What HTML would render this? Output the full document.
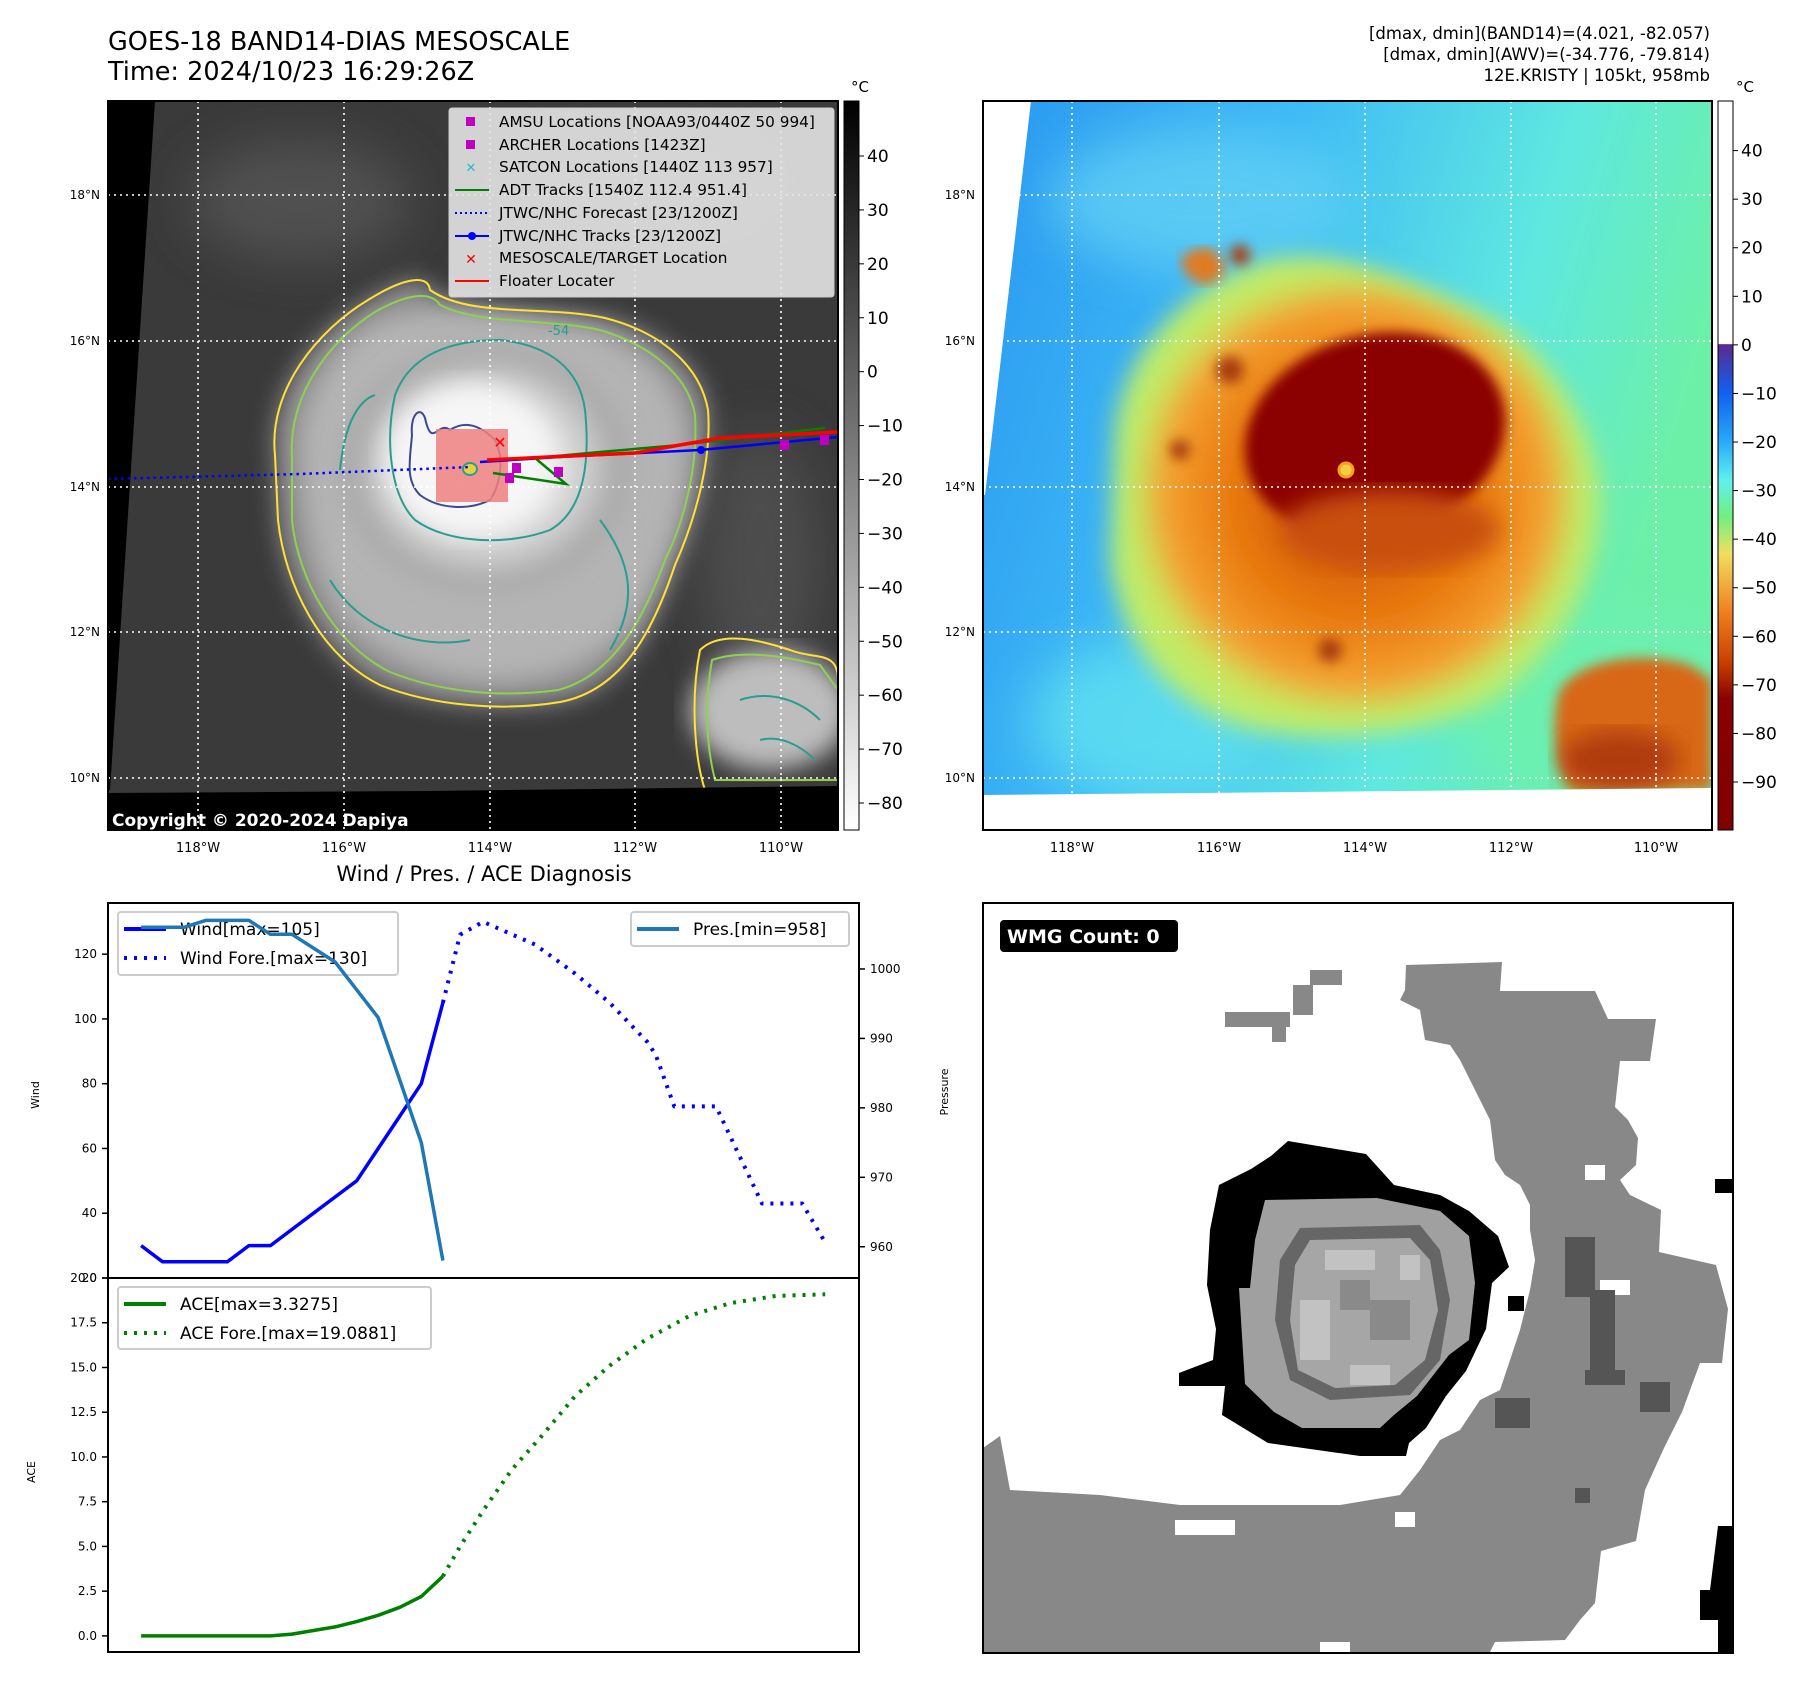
<!DOCTYPE html>
<html><head><meta charset="utf-8">
<style>
html,body{margin:0;padding:0;background:#fff;}
body{width:1801px;height:1690px;overflow:hidden;font-family:"Liberation Sans","DejaVu Sans",sans-serif;}
svg{position:absolute;left:0;top:0;}
text{font-family:"DejaVu Sans","Liberation Sans",sans-serif;}
</style></head>
<body>
<svg id="page" width="1801" height="1690" viewBox="0 0 1801 1690">
<defs>
  <clipPath id="clipL"><rect x="108" y="101" width="730" height="729"/></clipPath>
  <clipPath id="clipR"><rect x="983" y="101" width="729" height="729"/></clipPath>
  <filter id="blur6"><feGaussianBlur stdDeviation="6"/></filter>
  <filter id="blur12"><feGaussianBlur stdDeviation="12"/></filter>
  <filter id="blur25"><feGaussianBlur stdDeviation="25"/></filter>
  <radialGradient id="cloudG" cx="0.5" cy="0.5" r="0.5">
    <stop offset="0" stop-color="#f4f4f4"/><stop offset="0.5" stop-color="#e2e2e2"/><stop offset="0.8" stop-color="#c4c4c4"/><stop offset="1" stop-color="#9a9a9a"/>
  </radialGradient>
  <linearGradient id="bgR" x1="0" y1="0" x2="1" y2="0.3">
    <stop offset="0" stop-color="#2a98f0"/><stop offset="0.4" stop-color="#3fbaf6"/><stop offset="0.75" stop-color="#5ee8e0"/><stop offset="1" stop-color="#6cf0a8"/>
  </linearGradient>
  <radialGradient id="stormG" cx="0.5" cy="0.5" r="0.5">
    <stop offset="0" stop-color="#c24a06"/><stop offset="0.55" stop-color="#e8780e"/><stop offset="0.85" stop-color="#f4a030"/><stop offset="1" stop-color="#c8e860"/>
  </radialGradient>
  <linearGradient id="cbarL" x1="0" y1="0" x2="0" y2="1">
    <stop offset="0" stop-color="#000"/><stop offset="1" stop-color="#fff"/>
  </linearGradient>
  <linearGradient id="cbarR" x1="0" y1="0" x2="0" y2="1">
    <stop offset="0" stop-color="#fff"/><stop offset="0.333" stop-color="#fff"/>
    <stop offset="0.334" stop-color="#5a2a90"/><stop offset="0.40" stop-color="#1060f0"/>
    <stop offset="0.466" stop-color="#28a8f8"/><stop offset="0.52" stop-color="#60f0f0"/>
    <stop offset="0.57" stop-color="#70f080"/><stop offset="0.62" stop-color="#f0e060"/>
    <stop offset="0.70" stop-color="#f08020"/><stop offset="0.77" stop-color="#c84000"/>
    <stop offset="0.82" stop-color="#8b0000"/><stop offset="1" stop-color="#800000"/>
  </linearGradient>
</defs>

<!-- ================= LEFT MAP ================= -->
<text x="108" y="50" font-size="25.5">GOES-18 BAND14-DIAS MESOSCALE</text>
<text x="108" y="80" font-size="25.5">Time: 2024/10/23 16:29:26Z</text>
<g clip-path="url(#clipL)">
  <rect x="108" y="101" width="730" height="729" fill="#3a3a3a"/>
  <g filter="url(#blur25)" opacity="0.7">
    <ellipse cx="300" cy="200" rx="110" ry="60" fill="#5a5a5a"/>
    <ellipse cx="640" cy="180" rx="130" ry="50" fill="#505050"/>
    <ellipse cx="760" cy="560" rx="60" ry="130" fill="#555"/>
  </g>
  <path filter="url(#blur12)" fill="#8e8e8e" d="M275,455 C268,390 318,330 368,300 C400,280 428,272 430,290 C470,318 545,305 605,318 C660,332 700,365 708,410 C712,460 695,520 675,565 C655,625 625,690 560,702 C500,712 430,705 380,685 C320,655 285,585 278,520 Z"/>
  <path filter="url(#blur12)" fill="#b4b4b4" d="M300,460 C296,400 335,345 380,320 C430,300 520,315 590,330 C650,350 685,390 688,440 C690,500 670,560 640,610 C610,660 560,680 500,682 C440,682 380,660 345,620 C315,580 302,520 300,460 Z"/>
  <ellipse cx="485" cy="468" rx="140" ry="120" fill="url(#cloudG)" filter="url(#blur12)"/>
  <ellipse cx="470" cy="460" rx="85" ry="75" fill="#f6f6f6" filter="url(#blur12)"/>
  <g filter="url(#blur12)"><ellipse cx="770" cy="710" rx="80" ry="60" fill="#bdbdbd"/></g>
  <g fill="none" stroke-width="2">
    <path stroke="#ffe135" d="M275,455 C268,390 318,330 368,300 C400,280 428,272 430,290 C470,318 545,305 605,318 C660,332 700,365 708,410 C712,460 695,520 675,565 C655,625 625,690 560,702 C500,712 430,705 380,685 C320,655 285,585 278,520 Z"/>
    <path stroke="#8fd14f" d="M292,458 C288,395 330,340 375,312 C410,292 432,292 440,305 C480,325 545,318 600,330 C650,345 688,375 695,415 C698,465 685,520 665,560 C645,615 615,675 558,690 C500,698 440,692 390,672 C335,645 298,580 292,520 Z"/>
    <path stroke="#2a9d8f" d="M395,395 C410,355 450,340 500,340 C550,345 580,370 585,410 C590,460 585,510 550,530 C510,545 450,545 415,520 C390,495 385,440 395,395 Z"/>
    <path stroke="#2a9d8f" d="M340,470 C345,420 360,400 375,395 M600,520 C630,560 640,600 610,650 M330,580 C360,630 420,650 470,640"/>
    <path stroke="#3b4994" d="M412,435 C410,415 420,405 425,418 C432,450 438,420 450,430 C465,420 480,425 495,440 C505,460 500,485 490,500 C470,510 440,510 420,495 C405,480 410,460 412,435 Z"/>
    <path stroke="#ffe135" d="M700,650 C720,630 760,640 790,650 C815,660 838,650 838,680 L838,790 L705,790 C695,760 690,700 700,650 Z"/>
    <path stroke="#8fd14f" d="M712,660 C740,650 780,655 820,665 L838,690 L838,780 L715,780 C705,740 705,700 712,660 Z"/>
    <path stroke="#2a9d8f" d="M740,700 C770,690 800,700 820,720 M760,740 C780,735 800,745 815,760"/>
  </g>
  <text x="548" y="335" font-size="13" fill="#2a9d8f">-54</text>
  <polygon points="108,101 155,101 110,790 108,790" fill="#000"/>
  <polygon points="108,793 430,791 838,786 838,830 108,830" fill="#000"/>
  <g stroke="#fff" stroke-width="1.6" stroke-dasharray="2,4">
    <line x1="198" y1="101" x2="198" y2="830"/><line x1="344" y1="101" x2="344" y2="830"/>
    <line x1="490" y1="101" x2="490" y2="830"/><line x1="635" y1="101" x2="635" y2="830"/>
    <line x1="781" y1="101" x2="781" y2="830"/>
    <line x1="108" y1="195" x2="838" y2="195"/><line x1="108" y1="341" x2="838" y2="341"/>
    <line x1="108" y1="487" x2="838" y2="487"/><line x1="108" y1="632" x2="838" y2="632"/>
    <line x1="108" y1="778" x2="838" y2="778"/>
  </g>
  <rect x="436" y="429" width="72" height="73" fill="#f08080" opacity="0.85"/>
  <ellipse cx="470" cy="469" rx="7" ry="6" fill="#e8d040" stroke="#2a9d8f" stroke-width="2"/>
  <polyline points="108,479 300,474 470,467" fill="none" stroke="#0000ff" stroke-width="2.5" stroke-dasharray="2.5,4"/>
  <polyline points="480,462 560,457 700,450 838,437" fill="none" stroke="#0000ff" stroke-width="2.5"/>
  <circle cx="701" cy="450" r="4" fill="#0000ff"/>
  <polyline points="493,473 566,484 535,458 600,452 680,445 720,440 825,428" fill="none" stroke="#008000" stroke-width="2.5"/>
  <polyline points="487,460 548,457 635,453 680,445 720,438 838,432" fill="none" stroke="#ff0000" stroke-width="3.5"/>
  <g fill="#c000c0"><rect x="512" y="463" width="9" height="10"/><rect x="505" y="473" width="9" height="10"/><rect x="554" y="467" width="9" height="10"/><rect x="780" y="440" width="9" height="10"/><rect x="820" y="435" width="9" height="10"/></g>
  <text x="500" y="448" font-size="16" fill="#ff0000" font-weight="bold" text-anchor="middle">✕</text>
</g>
<rect x="108" y="101" width="730" height="729" fill="none" stroke="#000" stroke-width="2"/>
<text x="112" y="826" font-size="17" font-weight="bold" fill="#fff">Copyright © 2020-2024 Dapiya</text>
<g>
  <rect x="449" y="108" width="385" height="189" rx="3" fill="#e4e4e4" fill-opacity="0.9" stroke="#ccc"/>
  <g font-size="15.3">
    <rect x="466" y="117" width="9" height="9" fill="#c000c0"/><text x="499" y="127">AMSU Locations [NOAA93/0440Z 50 994]</text>
    <rect x="466" y="140" width="9" height="9" fill="#c000c0"/><text x="499" y="150">ARCHER Locations [1423Z]</text>
    <text x="471" y="172" fill="#20c0c0" font-size="13" text-anchor="middle" font-weight="bold">✕</text><text x="499" y="172">SATCON Locations [1440Z 113 957]</text>
    <line x1="455" y1="190" x2="489" y2="190" stroke="#008000" stroke-width="2"/><text x="499" y="195">ADT Tracks [1540Z 112.4 951.4]</text>
    <line x1="455" y1="213" x2="489" y2="213" stroke="#0000ff" stroke-width="2" stroke-dasharray="2,3"/><text x="499" y="218">JTWC/NHC Forecast [23/1200Z]</text>
    <line x1="455" y1="236" x2="489" y2="236" stroke="#0000ff" stroke-width="2"/><circle cx="472" cy="236" r="4" fill="#0000ff"/><text x="499" y="241">JTWC/NHC Tracks [23/1200Z]</text>
    <text x="471" y="264" fill="#ff0000" font-size="14" text-anchor="middle" font-weight="bold">✕</text><text x="499" y="263">MESOSCALE/TARGET Location</text>
    <line x1="455" y1="281" x2="489" y2="281" stroke="#ff0000" stroke-width="2"/><text x="499" y="286">Floater Locater</text>
  </g>
</g>
<g font-size="12" text-anchor="end">
  <text x="100" y="199">18°N</text><text x="100" y="345">16°N</text><text x="100" y="491">14°N</text><text x="100" y="636">12°N</text><text x="100" y="782">10°N</text>
</g>
<g font-size="13" text-anchor="middle">
  <text x="198" y="852">118°W</text><text x="344" y="852">116°W</text><text x="490" y="852">114°W</text><text x="635" y="852">112°W</text><text x="781" y="852">110°W</text>
</g>
<rect x="844" y="101" width="15" height="729" fill="url(#cbarL)" stroke="#000" stroke-width="1"/>
<text x="860" y="92" font-size="15" text-anchor="middle">°C</text>
<g id="cbL" font-size="17"></g>

<!-- ================= RIGHT MAP ================= -->
<g font-size="16.5" text-anchor="end">
  <text x="1710" y="39">[dmax, dmin](BAND14)=(4.021, -82.057)</text>
  <text x="1710" y="60">[dmax, dmin](AWV)=(-34.776, -79.814)</text>
  <text x="1710" y="81">12E.KRISTY | 105kt, 958mb</text>
</g>
<g clip-path="url(#clipR)">
  <rect x="983" y="101" width="729" height="729" fill="url(#bgR)"/>
  <g filter="url(#blur25)">
    <ellipse cx="1600" cy="700" rx="150" ry="90" fill="#6cf0b0"/>
    <ellipse cx="1150" cy="720" rx="120" ry="80" fill="#60e0f0" opacity="0.8"/>
    <ellipse cx="1200" cy="200" rx="150" ry="70" fill="#60d0f4" opacity="0.8"/>
  </g>
  <path filter="url(#blur12)" fill="#b8ec70" d="M1115,430 C1125,340 1200,280 1260,262 C1330,242 1420,285 1485,315 C1545,345 1590,420 1600,480 C1610,565 1565,650 1495,700 C1420,740 1320,745 1245,728 C1170,705 1120,645 1110,560 Z"/>
  <path filter="url(#blur12)" fill="url(#stormG)" d="M1135,440 C1145,360 1210,300 1270,280 C1340,260 1420,295 1478,325 C1535,358 1570,425 1578,485 C1584,565 1545,635 1478,680 C1410,718 1320,724 1252,706 C1185,685 1140,628 1132,555 Z"/>
  <ellipse cx="1375" cy="435" rx="132" ry="100" fill="#8b0000" filter="url(#blur6)" transform="rotate(-15 1375 435)"/>
  <ellipse cx="1390" cy="530" rx="110" ry="40" fill="#c85010" filter="url(#blur12)"/>
  <circle cx="1346" cy="470" r="7" fill="#f0d040" stroke="#f6a020" stroke-width="3"/>
  <path filter="url(#blur6)" fill="#d86818" d="M1560,690 C1580,660 1640,650 1690,665 L1712,680 L1712,790 L1570,790 C1555,760 1550,720 1560,690 Z"/>
  <ellipse cx="1620" cy="760" rx="60" ry="30" fill="#b03a08" filter="url(#blur12)"/>
  <path filter="url(#blur6)" fill="#e07a20" d="M1180,260 C1200,240 1220,245 1225,270 C1215,290 1190,290 1180,260 Z"/>
  <g fill="#a83c08" filter="url(#blur6)"><circle cx="1240" cy="255" r="10"/><circle cx="1230" cy="370" r="14"/><circle cx="1180" cy="450" r="10"/><circle cx="1330" cy="650" r="12"/></g>
  <polygon points="983,101 1031,101 985,495 983,495" fill="#fff"/>
  <polygon points="983,795 1300,792 1712,788 1712,830 983,830" fill="#fff"/>
  <g stroke="#fff" stroke-width="1.6" stroke-dasharray="2,4">
    <line x1="1072" y1="101" x2="1072" y2="830"/><line x1="1219" y1="101" x2="1219" y2="830"/>
    <line x1="1365" y1="101" x2="1365" y2="830"/><line x1="1511" y1="101" x2="1511" y2="830"/>
    <line x1="1656" y1="101" x2="1656" y2="830"/>
    <line x1="983" y1="195" x2="1712" y2="195"/><line x1="983" y1="341" x2="1712" y2="341"/>
    <line x1="983" y1="487" x2="1712" y2="487"/><line x1="983" y1="632" x2="1712" y2="632"/>
    <line x1="983" y1="778" x2="1712" y2="778"/>
  </g>
</g>
<rect x="983" y="101" width="729" height="729" fill="none" stroke="#000" stroke-width="2"/>
<g font-size="12" text-anchor="end">
  <text x="975" y="199">18°N</text><text x="975" y="345">16°N</text><text x="975" y="491">14°N</text><text x="975" y="636">12°N</text><text x="975" y="782">10°N</text>
</g>
<g font-size="13" text-anchor="middle">
  <text x="1072" y="852">118°W</text><text x="1219" y="852">116°W</text><text x="1365" y="852">114°W</text><text x="1511" y="852">112°W</text><text x="1656" y="852">110°W</text>
</g>
<rect x="1718" y="101" width="15" height="729" fill="url(#cbarR)" stroke="#000" stroke-width="1"/>
<text x="1745" y="92" font-size="15" text-anchor="middle">°C</text>
<g id="cbR" font-size="17"></g>

<!-- ================= WIND / PRES / ACE ================= -->
<text x="484" y="881" font-size="21" text-anchor="middle">Wind / Pres. / ACE Diagnosis</text>
<g id="chart"></g>

<!-- ================= WMG ================= -->
<g>
  <rect x="983" y="903" width="750" height="750" fill="#fff"/>
  <polygon fill="#888" points="1406,965 1502,962 1500,991 1595,991 1608,1019 1656,1019 1650,1061 1620,1061 1615,1107 1628,1120 1638,1138 1636,1165 1620,1180 1630,1195 1661,1210 1659,1252 1716,1265 1728,1309 1722,1363 1700,1363 1682,1412 1664,1448 1645,1490 1636,1541 1601,1551 1595,1603 1580,1620 1565,1640 1495,1642 1490,1652 983,1652 983,1448 1000,1436 1010,1490 1100,1495 1180,1505 1260,1505 1340,1505 1400,1495 1420,1470 1440,1440 1460,1430 1480,1400 1500,1390 1510,1360 1520,1330 1530,1290 1535,1260 1530,1230 1530,1205 1520,1185 1505,1175 1495,1160 1490,1120 1480,1100 1470,1080 1460,1060 1450,1045 1425,1040 1420,1010 1400,1000 1405,990"/>
  <g fill="#888"><rect x="1225" y="1012" width="65" height="15"/><rect x="1272" y="1027" width="14" height="15"/><rect x="1293" y="985" width="20" height="30"/><rect x="1310" y="970" width="32" height="15"/><rect x="1026" y="1500" width="40" height="20"/></g>
  <g fill="#fff"><rect x="1175" y="1520" width="60" height="15"/><rect x="1395" y="1512" width="20" height="15"/><rect x="1585" y="1165" width="20" height="15"/><rect x="1600" y="1280" width="30" height="15"/><rect x="1320" y="1642" width="30" height="12"/></g>
  <g fill="#555"><rect x="1565" y="1237" width="30" height="60"/><rect x="1590" y="1290" width="25" height="80"/><rect x="1585" y="1370" width="40" height="15"/><rect x="1495" y="1398" width="35" height="30"/><rect x="1640" y="1382" width="30" height="30"/><rect x="1575" y="1488" width="15" height="15"/></g>
  <polygon fill="#000" points="1219,1185 1251,1169 1271,1156 1288,1141 1366,1154 1394,1185 1440,1195 1469,1211 1498,1236 1509,1267 1492,1283 1486,1329 1466,1371 1446,1396 1426,1428 1409,1443 1406,1456 1360,1456 1268,1443 1222,1415 1225,1386 1179,1386 1179,1373 1213,1360 1216,1329 1207,1285 1210,1230"/>
  <polygon fill="#a0a0a0" points="1265,1200 1377,1198 1440,1211 1469,1236 1475,1283 1469,1340 1449,1355 1417,1396 1394,1415 1380,1428 1302,1428 1274,1412 1245,1384 1239,1288 1250,1288 1255,1240"/>
  <polygon fill="#666" points="1300,1228 1420,1225 1440,1250 1450,1300 1440,1360 1410,1395 1330,1400 1290,1380 1275,1320 1280,1260"/>
  <polygon fill="#a6a6a6" points="1310,1240 1410,1238 1430,1260 1438,1310 1425,1360 1395,1385 1335,1388 1298,1370 1290,1320 1295,1265"/>
  <g fill="#c2c2c2"><rect x="1300" y="1300" width="30" height="60"/><rect x="1325" y="1250" width="50" height="20"/><rect x="1400" y="1255" width="20" height="25"/><rect x="1350" y="1365" width="40" height="20"/></g>
  <g fill="#8a8a8a"><rect x="1370" y="1300" width="40" height="40"/><rect x="1340" y="1280" width="30" height="30"/></g>
  <g fill="#000"><rect x="1715" y="1179" width="18" height="14"/><rect x="1508" y="1296" width="16" height="15"/><polygon points="1718,1526 1733,1526 1733,1652 1718,1652 1718,1620 1700,1620 1700,1590 1710,1590"/></g>
  <rect x="983" y="903" width="750" height="750" fill="none" stroke="#000" stroke-width="2"/>
  <rect x="1000" y="920" width="178" height="32" rx="4" fill="#000"/>
  <text x="1007" y="943" font-size="19" font-weight="bold" fill="#fff">WMG Count: 0</text>
</g>
</svg>

<script>
// ---- chart data ----
const obsHours = [0,3,6,9,12,15,18,21,24,27,30,33,36,39,42];
const windObs = [30,25,25,25,25,30,30,35,40,45,50,60,70,80,105];
const presObs = [1006,1006,1006,1007,1007,1007,1005,1005,1003,1001,997,993,984,975,958];
const aceObs = [0,0,0,0,0,0,0,0.1,0.3,0.5,0.8,1.15,1.6,2.2,3.33];
const windForeHours = [42,44.4,47.6,54.8,60.4,65.2,70.4,71.6,74.2,80,86.4,92,95.2];
const windFore = [105,126,130,123,114,105,93,89,73,73,43,43,31];
const aceForeHours = [42,44.4,47.6,51.6,55.6,60.4,65.2,70.4,76.4,82,88.4,95.2];
const aceFore = [3.33,5.0,7.0,9.3,11.1,13.4,15.1,16.6,17.9,18.6,19.0,19.09];
const windTicks = [40,60,80,100,120];
const presTicks = [960,970,980,990,1000];
const aceTicks = [0,2.5,5,7.5,10,12.5,15,17.5,20];
const cbLeftTicks = [40,30,20,10,0,-10,-20,-30,-40,-50,-60,-70,-80];
const cbRightTicks = [40,30,20,10,0,-10,-20,-30,-40,-50,-60,-70,-80,-90];

const NS='http://www.w3.org/2000/svg';
function lin(d0,d1,r0,r1){return v=>r0+(v-d0)*(r1-r0)/(d1-d0);}
const L=108,R=859,T=903,M=1278,B=1652;
const xS=lin(-4.6,99.9,L,R);
const wS=lin(20,135.8,M,T);
const pS=lin(955.5,1009.5,M,T);
const aS=lin(-0.9,20,B,M);
const chart=document.getElementById('chart');
function mk(tag,attrs,parent){const e=document.createElementNS(NS,tag);for(const k in attrs)e.setAttribute(k,attrs[k]);(parent||chart).appendChild(e);return e;}
function line(xs,ys,xf,yf,color,w,dash,name){
  const pts=xs.map((h,i)=>xf(h).toFixed(1)+','+yf(ys[i]).toFixed(1)).join(' ');
  const e=mk('polyline',{points:pts,fill:'none',stroke:color,'stroke-width':w,'stroke-linejoin':'round'});
  if(dash)e.setAttribute('stroke-dasharray',dash);
  
  
  return e;
}
const f1=mk('rect',{x:L,y:T,width:R-L,height:M-T,fill:'none',stroke:'#000','stroke-width':2});


const f2=mk('rect',{x:L,y:M,width:R-L,height:B-M,fill:'none',stroke:'#000','stroke-width':2});


windTicks.forEach(v=>{const y=wS(v);mk('line',{x1:L-6,y1:y,x2:L,y2:y,stroke:'#000','stroke-width':1.5});
  const t=mk('text',{x:L-11,y:y+4,'font-size':12,'text-anchor':'end'});t.textContent=v;
  
  });
presTicks.forEach(v=>{const y=pS(v);mk('line',{x1:R,y1:y,x2:R+6,y2:y,stroke:'#000','stroke-width':1.5});
  const t=mk('text',{x:R+11,y:y+4,'font-size':12});t.textContent=v;
  
  });
aceTicks.forEach(v=>{const y=aS(v);mk('line',{x1:L-6,y1:y,x2:L,y2:y,stroke:'#000','stroke-width':1.5});
  const t=mk('text',{x:L-11,y:y+4,'font-size':12,'text-anchor':'end'});t.textContent=v.toFixed(1);
  
  });
mk('line',{x1:L-6,y1:M,x2:L,y2:M,stroke:'#000','stroke-width':1.5});
const tw=mk('text',{x:L-11,y:M+4,'font-size':12,'text-anchor':'end'});tw.textContent='20';


const yl1=mk('text',{x:0,y:0,'font-size':11,'text-anchor':'middle',transform:'translate(39,1095) rotate(-90)'});yl1.textContent='Wind';


const yl2=mk('text',{x:0,y:0,'font-size':11,'text-anchor':'middle',transform:'translate(948,1092) rotate(-90)'});yl2.textContent='Pressure';


const yl3=mk('text',{x:0,y:0,'font-size':11,'text-anchor':'middle',transform:'translate(35,1472) rotate(-90)'});yl3.textContent='ACE';


function legend(x,y,w,h,items,name){
  const g=mk('g',{});
  
  
  mk('rect',{x:x,y:y,width:w,height:h,rx:3,fill:'#fff','fill-opacity':0.8,stroke:'#ccc','stroke-width':2},g);
  items.forEach((it,i)=>{const cy=y+17+i*29;
    const ln=mk('line',{x1:x+6,y1:cy,x2:x+48,y2:cy,stroke:it.c,'stroke-width':4},g);
    if(it.d)ln.setAttribute('stroke-dasharray','3,7');
    const t=mk('text',{x:x+62,y:cy+6,'font-size':17},g);t.textContent=it.t;});
}
// wind axes (bottom layer), then its legend, then pressure twin axes on top
line(windForeHours,windFore,xS,wS,'#0000ff',4,'3,7','wind-forecast-line');
line(obsHours,windObs,xS,wS,'#0000ff',3.5,null,'wind-line');
legend(118,912,280,63,[{c:'#0000ff',t:'Wind[max=105]'},{c:'#0000ff',t:'Wind Fore.[max=130]',d:1}],'wind-legend');
line(obsHours,presObs,xS,pS,'#1f77b4',3.5,null,'pressure-line');
legend(631,912,218,34,[{c:'#1f77b4',t:'Pres.[min=958]'}],'pressure-legend');
line(aceForeHours,aceFore,xS,aS,'#008000',4,'3,7','ace-forecast-line');
line(obsHours,aceObs,xS,aS,'#008000',3.5,null,'ace-line');
legend(118,1287,313,62,[{c:'#008000',t:'ACE[max=3.3275]'},{c:'#008000',t:'ACE Fore.[max=19.0881]',d:1}],'ace-legend');
const cbLS=lin(40,-80,156,803);
const gl=document.getElementById('cbL');
cbLeftTicks.forEach(v=>{const y=cbLS(v);mk('line',{x1:859,y1:y,x2:864,y2:y,stroke:'#000'},gl);
  const t=mk('text',{x:867,y:y+6},gl);t.textContent=(v<0?'\u2212'+(-v):v);
  
  });
const cbRS=lin(40,-90,150.6,782);
const gr=document.getElementById('cbR');
cbRightTicks.forEach(v=>{const y=cbRS(v);mk('line',{x1:1733,y1:y,x2:1738,y2:y,stroke:'#000'},gr);
  const t=mk('text',{x:1741,y:y+6},gr);t.textContent=(v<0?'\u2212'+(-v):v);
  
  });
</script>
</body></html>
